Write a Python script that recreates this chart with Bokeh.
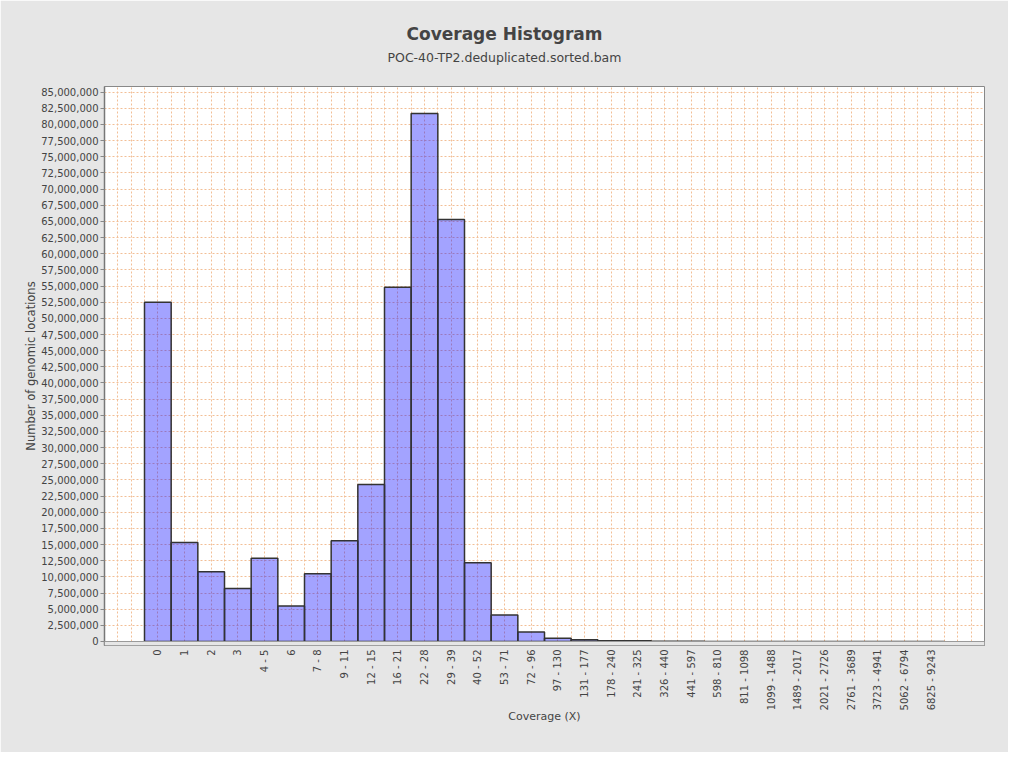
import math
from bokeh.plotting import figure
from bokeh.models import FixedTicker, NumeralTickFormatter, Title, Range1d, BoxAnnotation, Span
from bokeh.embed import file_html
from bokeh.resources import INLINE

title_text = "Coverage Histogram"
subtitle_text = "POC-40-TP2.deduplicated.sorted.bam"
x_label = "Coverage (X)"
y_label = "Number of genomic locations"

categories = ["0", "1", "2", "3", "4 - 5", "6", "7 - 8", "9 - 11", "12 - 15", "16 - 21",
              "22 - 28", "29 - 39", "40 - 52", "53 - 71", "72 - 96", "97 - 130", "131 - 177",
              "178 - 240", "241 - 325", "326 - 440", "441 - 597", "598 - 810", "811 - 1098",
              "1099 - 1488", "1489 - 2017", "2021 - 2726", "2761 - 3689", "3723 - 4941",
              "5062 - 6794", "6825 - 9243"]
counts = [52_500_000, 15_300_000, 10_800_000, 8_200_000, 12_900_000, 5_500_000, 10_500_000,
          15_600_000, 24_300_000, 54_800_000, 81_700_000, 65_300_000, 12_200_000, 4_100_000,
          1_450_000, 500_000, 270_000, 130_000, 100_000, 40_000, 20_000, 10_000, 6_000,
          4_000, 3_000, 2_000, 1_000, 1_000, 500, 300]
y_ticks = [i * 2_500_000 for i in range(35)]

FONT = "DejaVu Sans"
TXT = "#444444"
GRID = "#f2bf96"

xs = list(range(len(categories)))

p = figure(width=1008, height=752,
           x_range=Range1d(-2.0, 31.0), y_range=Range1d(-620_000, 85_880_000),
           output_backend="svg", toolbar_location=None,
           title=title_text,
           min_border_left=104, min_border_right=24, min_border_top=86, min_border_bottom=107)

p.background_fill_color = "white"
p.border_fill_color = "#e6e6e6"
p.outline_line_color = "#888888"

# titles (p.title is outermost; added titles stack from the frame outward)
p.title.text_font = FONT
p.title.text_font_size = "17px"
p.title.text_font_style = "bold"
p.title.text_color = TXT
p.title.align = "left"
p.title.offset = 302
p.title.standoff = 4

spacer = Title(text=" ", text_font=FONT, text_font_size="10px", standoff=7)
p.add_layout(spacer, "above")
sub = Title(text=subtitle_text, text_font=FONT, text_font_size="12.5px", text_font_style="normal",
            text_color=TXT, align="left", offset=283, standoff=4)
p.add_layout(sub, "above")

# grids
p.ygrid.ticker = FixedTicker(ticks=y_ticks)
p.xgrid.ticker = FixedTicker(ticks=[-2 + 0.5 * k for k in range(67)])
for g in (p.xgrid, p.ygrid):
    g.grid_line_color = GRID
    g.grid_line_dash = "2 2"
    g.grid_line_width = 1

# bars
p.vbar(x=xs, top=counts, bottom=0, width=1.0, fill_color="#0000ff", fill_alpha=0.36,
       line_color="#333333", line_width=1.5)

# gap strip between plot bottom and axis
p.add_layout(BoxAnnotation(top=0, fill_color="#e6e6e6", fill_alpha=1.0, line_color=None))
p.add_layout(Span(location=0, dimension="width", line_color="#999999", line_width=1))

# x axis
xa = p.xaxis[0]
xa.ticker = FixedTicker(ticks=xs)
xa.major_label_overrides = {i: c for i, c in enumerate(categories)}
xa.major_label_orientation = math.pi / 2
xa.major_tick_line_color = None
xa.major_tick_out = 0
xa.major_tick_in = 0
xa.minor_tick_line_color = None
xa.major_label_standoff = 4
xa.axis_line_color = "#888888"
xa.axis_label = x_label
xa.axis_label_standoff = -3

# y axis
ya = p.yaxis[0]
ya.ticker = FixedTicker(ticks=y_ticks)
ya.formatter = NumeralTickFormatter(format="0,0")
ya.major_tick_out = 4
ya.major_tick_in = 0
ya.major_tick_line_color = "#888888"
ya.minor_tick_line_color = None
ya.major_label_standoff = 2
ya.axis_line_color = "#777777"
ya.axis_line_width = 1.5
ya.axis_label = y_label
ya.axis_label_standoff = 0

for ax in (xa, ya):
    ax.major_label_text_font = FONT
    ax.major_label_text_font_size = "10px"
    ax.major_label_text_color = TXT
    ax.axis_label_text_font = FONT
    ax.axis_label_text_font_size = "11px"
    ax.axis_label_text_font_style = "normal"
    ax.axis_label_text_color = TXT
ya.axis_label_text_font_size = "11.5px"

open("out.html", "w").write(file_html(p, INLINE))
